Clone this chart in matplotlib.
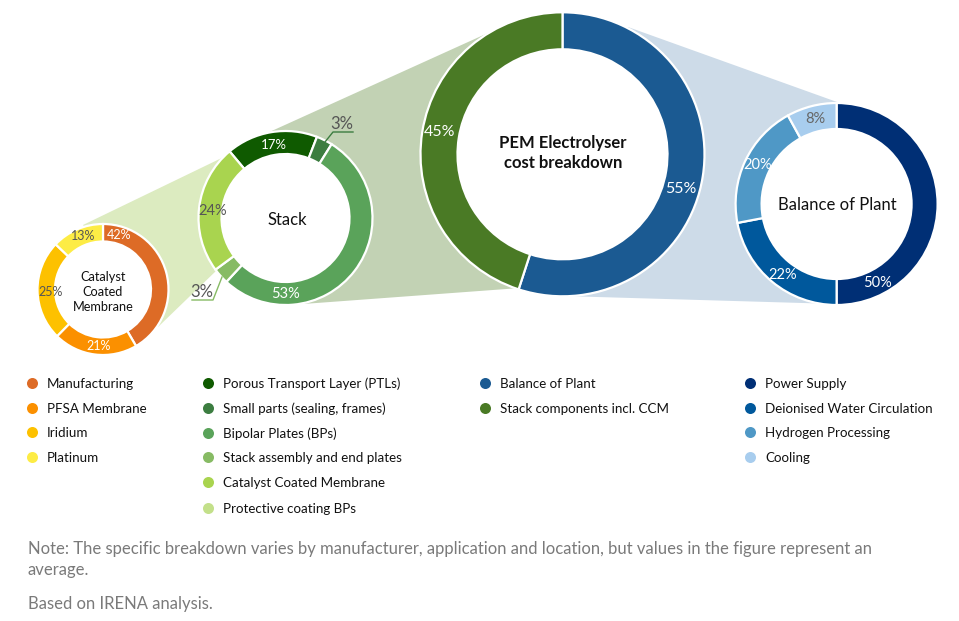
import matplotlib
matplotlib.use("Agg")
import matplotlib.pyplot as plt
from matplotlib.patches import Polygon, Circle

plt.rcParams['font.family'] = ['Lato', 'DejaVu Sans']

W, H = 959, 621

ccm_labels = ["Manufacturing", "PFSA Membrane", "Iridium", "Platinum"]
ccm_values = [42, 21, 25, 13]
ccm_colors = ["#dd6b26", "#fb9000", "#fdc100", "#fdec45"]

stack_labels = ["Porous Transport Layer (PTLs)", "Small parts (sealing, frames)", "Bipolar Plates (BPs)",
                "Stack assembly and end plates", "Catalyst Coated Membrane", "Protective coating BPs"]
stack_values = [17, 3, 53, 3, 24]
stack_colors = ["#0f5a00", "#3c7d40", "#5aa35a", "#87bb64", "#a9d44f", "#c3e08a"]

pem_labels = ["Balance of Plant", "Stack components incl. CCM"]
pem_values = [55, 45]
pem_colors = ["#1b5a92", "#4a7a25"]

bop_labels = ["Power Supply", "Deionised Water Circulation", "Hydrogen Processing", "Cooling"]
bop_values = [50, 22, 20, 8]
bop_colors = ["#002f75", "#00589c", "#4f98c6", "#a8cdee"]


def Y(y):
    return H - y


def donut(ax, values, colors, cx, cy, r, inner, start=90):
    ax.add_patch(Circle((cx, Y(cy)), inner, facecolor="white", edgecolor="none", zorder=0.5))
    ax.pie(values, colors=colors, center=(cx, Y(cy)), radius=r, startangle=start, counterclock=False,
           frame=True, wedgeprops=dict(width=r - inner, edgecolor="white", linewidth=1.6))


def band(ax, pts, color):
    ax.add_patch(Polygon([(x, Y(y)) for x, y in pts], closed=True, facecolor=color, edgecolor="none", zorder=0))


def pct(ax, x, y, s, color="white", size=10.5):
    ax.text(x, Y(y), s, color=color, fontsize=size, ha="center", va="center", zorder=5)


def legend(ax, x, ys, labels, colors):
    for y, lab, col in zip(ys, labels, colors):
        ax.scatter([x], [Y(y)], s=63, color=col, linewidths=0, zorder=5)
        ax.text(x + 15, Y(y + 1), lab, fontsize=9.65, color="#111111", va="center", ha="left")


fig = plt.figure(figsize=(W / 100, H / 100), dpi=100)
ax = fig.add_axes([0, 0, 1, 1])

# connecting bands behind the rings
band(ax, [(83, 225), (232, 153), (217, 270), (158, 327)], "#dcebc0")
band(ax, [(265, 134), (510, 23), (520, 288), (303, 304)], "#c2d2b4")
band(ax, [(628, 27), (837, 102), (837, 304), (563, 296)], "#cddbe8")

donut(ax, ccm_values, ccm_colors, 103, 289.5, 65.5, 48)
donut(ax, stack_values, stack_colors[:5], 285.5, 218, 87, 64, start=130)
donut(ax, pem_values, pem_colors, 562.5, 154.3, 142, 105)
donut(ax, bop_values, bop_colors, 836.6, 204, 101, 75)

dark = "#555555"
pct(ax, 119, 235, "42%", size=9)
pct(ax, 99, 346, "21%", size=9)
pct(ax, 51, 292, "25%", dark, 9)
pct(ax, 83, 236, "13%", dark, 9)
pct(ax, 274, 145, "17%", size=9.5)
pct(ax, 285, 294, "53%")
pct(ax, 213, 211, "24%", dark)
pct(ax, 342, 124, "3%", dark, 12)
pct(ax, 202, 292, "3%", dark, 12)
pct(ax, 681, 189, "55%", size=11.5)
pct(ax, 440, 132, "45%", size=11.5)
pct(ax, 877, 283, "50%")
pct(ax, 783, 275, "22%")
pct(ax, 758, 165, "20%")
pct(ax, 815, 119, "8%", "#666666")

# leader lines for the two small slices
ax.plot([325, 333, 353], [Y(142), Y(132), Y(132)], color=stack_colors[1], lw=1, zorder=4)
ax.plot([222, 213, 192], [Y(277), Y(300), Y(300)], color=stack_colors[3], lw=1, zorder=4)

ax.text(563, Y(153), "PEM Electrolyser\ncost breakdown", fontsize=12, fontweight="bold", color="#111111",
        ha="center", va="center", linespacing=1.3)
ax.text(287.5, Y(220), "Stack", fontsize=12, color="#111111", ha="center", va="center")
ax.text(837, Y(205), "Balance of Plant", fontsize=12, color="#111111", ha="center", va="center")
ax.text(103, Y(292), "Catalyst\nCoated\nMembrane", fontsize=9.2, color="#111111", ha="center", va="center",
        linespacing=1.3)

legend(ax, 32, [383, 408, 432, 457], ccm_labels, ccm_colors)
legend(ax, 208, [383, 408, 433, 457, 482, 508], stack_labels, stack_colors)
legend(ax, 485, [383, 408], pem_labels, pem_colors)
legend(ax, 750, [383, 408, 432, 457], bop_labels, bop_colors)

ax.text(28, Y(549), "Note: The specific breakdown varies by manufacturer, application and location, but values in the figure represent an",
        fontsize=12, color="#7a7a7a", va="center")
ax.text(28, Y(570), "average.", fontsize=12, color="#7a7a7a", va="center")
ax.text(28, Y(604), "Based on IRENA analysis.", fontsize=12, color="#7a7a7a", va="center")

ax.set_xlim(0, W)
ax.set_ylim(0, H)
ax.set_aspect("equal")
ax.axis("off")

fig.savefig("out.png", dpi=100, facecolor="white")
